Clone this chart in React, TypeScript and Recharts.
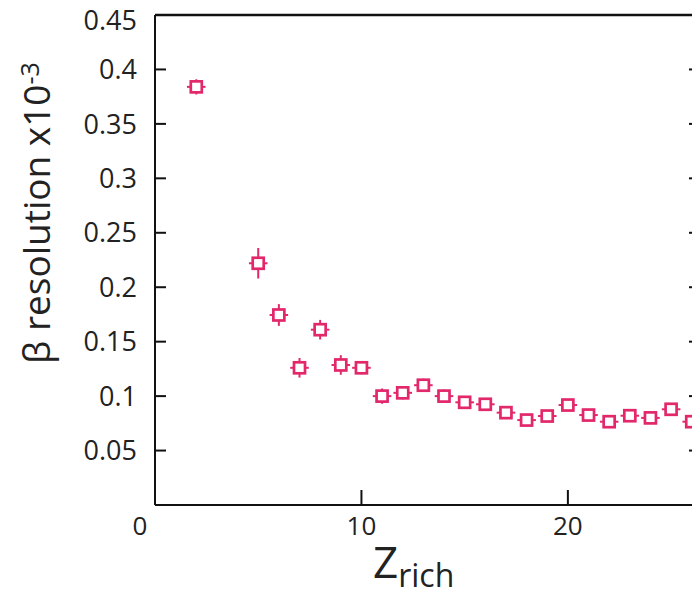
import React from 'react'
import {
  ScatterChart,
  Scatter,
  XAxis,
  YAxis,
  ErrorBar,
  ReferenceLine,
  Label,
} from 'recharts'

// Z_rich bins and their beta resolution (x10^-3)
const zRich = [2, 5, 6, 7, 8, 9, 10, 11, 12, 13, 14, 15, 16, 17, 18, 19, 20, 21, 22, 23, 24, 25, 26]
const betaRes = [
  0.384, 0.222, 0.1745, 0.126, 0.161, 0.1286, 0.126, 0.1, 0.103, 0.11, 0.1, 0.0943,
  0.0925, 0.0848, 0.078, 0.0817, 0.0918, 0.0826, 0.0765, 0.082, 0.08, 0.0879, 0.0765,
]
const betaErr = [
  0.007, 0.014, 0.01, 0.009, 0.009, 0.009, 0.006, 0.007, 0.006, 0.006, 0.006, 0.005,
  0.005, 0.005, 0.005, 0.005, 0.005, 0.005, 0.005, 0.005, 0.005, 0.005, 0.005,
]
const zHalfBin = 0.45

const xTicks = [0, 10, 20]
const yTicks = [0.05, 0.1, 0.15, 0.2, 0.25, 0.3, 0.35, 0.4, 0.45]

const PINK = '#e2286b'
const FONT = '"Open Sans", "Noto Sans", sans-serif'

const data = zRich.map((z, i) => ({
  z,
  beta: betaRes[i],
  betaErr: betaErr[i],
  zErr: zHalfBin,
}))

const OpenSquare = (props: any) => {
  const { cx, cy } = props
  return (
    <rect
      x={cx - 5.5}
      y={cy - 5.5}
      width={11}
      height={11}
      fill="#fff"
      stroke={PINK}
      strokeWidth={2.7}
    />
  )
}

const XTick = (props: any) => {
  const { x, y, payload } = props
  const v = payload.value
  const axisY = y - 12
  return (
    <g>
      {v !== 0 && <line x1={x} y1={axisY} x2={x} y2={axisY - 15} stroke="#111" strokeWidth={2} />}
      <text
        x={v === 0 ? x - 15 : x}
        y={y}
        dy="0.7em"
        textAnchor="middle"
        fontSize={26}
        fontFamily={FONT}
        fill="#222"
      >
        {v}
      </text>
    </g>
  )
}

const YTick = (props: any) => {
  const { x, y, payload } = props
  const axisX = x + 18
  // the top label sits a little under the frame
  const ly = payload.value === 0.45 ? y + 5 : y
  return (
    <g>
      <line x1={axisX} y1={y} x2={axisX + 11} y2={y} stroke="#111" strokeWidth={2} />
      <text
        x={x}
        y={ly}
        dy="0.36em"
        textAnchor="end"
        fontSize={27}
        fontFamily={FONT}
        fill="#222"
      >
        {String(payload.value)}
      </text>
    </g>
  )
}

const RightTick = (props: any) => {
  const { x, y } = props
  return <line x1={x - 11} y1={y} x2={x} y2={y} stroke="#111" strokeWidth={2} />
}

const YTitle = () => (
  <text
    x={50}
    y={213}
    transform="rotate(-90, 50, 213)"
    textAnchor="middle"
    fontSize={37}
    fontFamily={FONT}
    fill="#222"
  >
    β resolution x10
    <tspan dy="-0.45em" fontSize={25}>
      -3
    </tspan>
  </text>
)

const XTitle = () => (
  <text x={373} y={578} fontFamily={FONT} fill="#222">
    <tspan fontSize={44}>Z</tspan>
    <tspan fontSize={32} dy={9}>
      rich
    </tspan>
  </text>
)

export default function App() {
  return (
    <div
      style={{
        position: 'absolute',
        left: 0,
        top: 0,
        width: 692,
        height: 597,
        overflow: 'hidden',
        background: '#fff',
      }}
    >
      <ScatterChart width={720} height={597} margin={{ top: 15, right: 0, bottom: 0, left: 0 }}>
        <XAxis
          type="number"
          dataKey="z"
          domain={[0, 26.4]}
          ticks={xTicks}
          allowDataOverflow
          height={92}
          tickSize={0}
          tickMargin={12}
          tick={<XTick />}
          axisLine={{ stroke: '#111', strokeWidth: 2 }}
        >
          <Label content={<XTitle />} />
        </XAxis>
        <YAxis
          yAxisId="left"
          type="number"
          dataKey="beta"
          domain={[0, 0.45]}
          ticks={yTicks}
          allowDataOverflow
          width={155}
          tickSize={0}
          tickMargin={18}
          tick={<YTick />}
          axisLine={{ stroke: '#111', strokeWidth: 2 }}
        >
          <Label content={<YTitle />} />
        </YAxis>
        <YAxis
          yAxisId="right"
          orientation="right"
          type="number"
          domain={[0, 0.45]}
          ticks={yTicks.slice(0, -1)}
          allowDataOverflow
          width={20}
          tickSize={0}
          tickMargin={0}
          tick={<RightTick />}
          axisLine={{ stroke: '#111', strokeWidth: 2 }}
        />
        <ReferenceLine yAxisId="left" y={0.45} stroke="#111" strokeWidth={2.5} />
        <Scatter
          yAxisId="left"
          data={data}
          shape={<OpenSquare />}
          isAnimationActive={false}
        >
          <ErrorBar dataKey="zErr" direction="x" width={0} stroke={PINK} strokeWidth={2} />
          <ErrorBar dataKey="betaErr" direction="y" width={0} stroke={PINK} strokeWidth={2} />
        </Scatter>
      </ScatterChart>
    </div>
  )
}
